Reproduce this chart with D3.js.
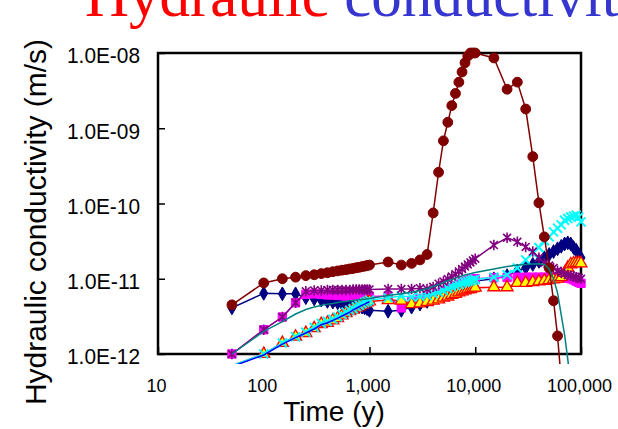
<!DOCTYPE html>
<html><head><meta charset="utf-8">
<script src="https://cdn.jsdelivr.net/npm/d3@7"></script>
<style>body{margin:0;background:#fff}svg{display:block}</style>
</head><body>
<script>
// ---- data ----
const T1 = [50,100,150,200,250,300,350,400,450,500,550,600,650,700,750,800,850,900,950,1000];
const T2 = [1500,2000,2500,3000,3500,4000,4500,5000,5500,6000,6500,7000,7500,8000,8500,9000,9500,10000];
const T3 = [15000,20000,25000,30000,35000,40000,45000,50000,55000,60000,65000,70000,75000,80000,85000,90000,95000,100000];
const timeAll = T1.concat(T2, T3);

const navy = [4.1e-12,6.4e-12,6.3e-12,6.3e-12,5.6e-12,5.4e-12,5.2e-12,5.0e-12,4.9e-12,4.8e-12,4.7e-12,4.6e-12,4.5e-12,4.4e-12,4.3e-12,4.3e-12,4.2e-12,4.1e-12,4.0e-12,3.8e-12,
  3.7e-12,3.8e-12,4.2e-12,4.6e-12,5.0e-12,5.4e-12,5.8e-12,6.2e-12,6.6e-12,7.0e-12,7.4e-12,7.7e-12,8.0e-12,8.3e-12,8.6e-12,8.9e-12,9.1e-12,9.3e-12,
  1.0e-11,1.1e-11,1.27e-11,1.4e-11,1.55e-11,1.7e-11,1.9e-11,2.1e-11,2.3e-11,2.5e-11,2.7e-11,2.9e-11,3.0e-11,2.9e-11,2.6e-11,2.4e-11,2.1e-11,1.9e-11];
const magenta = [1.0e-12,2.1e-12,3.1e-12,4.8e-12,6.2e-12,6.3e-12,6.2e-12,6.1e-12,6.1e-12,6.0e-12,6.0e-12,5.9e-12,5.9e-12,5.9e-12,5.9e-12,5.8e-12,5.8e-12,5.8e-12,5.8e-12,5.8e-12,
  5.9e-12,4.1e-12,5.0e-12,5.4e-12,5.7e-12,6.0e-12,6.4e-12,6.8e-12,7.2e-12,7.6e-12,8.0e-12,8.4e-12,8.8e-12,9.1e-12,9.4e-12,9.7e-12,9.9e-12,1.0e-11,
  1.03e-11,1.04e-11,1.05e-11,1.05e-11,1.05e-11,1.05e-11,1.05e-11,1.05e-11,1.05e-11,1.05e-11,1.04e-11,1.03e-11,1.02e-11,1.0e-11,9.7e-12,9.3e-12,9.0e-12,8.7e-12];
const triangle = [7.0e-13,1.0e-12,1.4e-12,1.7e-12,1.9e-12,2.2e-12,2.5e-12,2.6e-12,2.8e-12,3.0e-12,3.25e-12,3.5e-12,3.7e-12,3.9e-12,4.1e-12,4.3e-12,4.5e-12,4.7e-12,4.85e-12,5.0e-12,
  5.2e-12,5.1e-12,4.6e-12,4.7e-12,4.9e-12,5.1e-12,5.3e-12,5.6e-12,5.8e-12,6.1e-12,6.3e-12,6.6e-12,6.8e-12,7.0e-12,7.2e-12,7.3e-12,7.5e-12,7.6e-12,
  7.7e-12,7.7e-12,8.8e-12,8.8e-12,9.0e-12,9.2e-12,9.4e-12,9.6e-12,9.8e-12,1.0e-11,1.05e-11,1.2e-11,1.4e-11,1.55e-11,1.6e-11,1.62e-11,1.62e-11,1.6e-11];
const cyan = [7.0e-13,1.0e-12,1.4e-12,1.7e-12,1.95e-12,2.25e-12,2.55e-12,2.7e-12,2.9e-12,3.1e-12,3.35e-12,3.6e-12,3.8e-12,4.0e-12,4.25e-12,4.45e-12,4.65e-12,4.85e-12,5.0e-12,5.2e-12,
  5.6e-12,5.9e-12,5.7e-12,5.8e-12,6.0e-12,6.3e-12,6.6e-12,7.0e-12,7.4e-12,7.8e-12,8.1e-12,8.4e-12,8.7e-12,9.0e-12,9.2e-12,9.4e-12,9.6e-12,9.8e-12,
  1.05e-11,1.13e-11,1.39e-11,1.78e-11,2.2e-11,2.6e-11,3.2e-11,3.6e-11,4.2e-11,4.7e-11,5.2e-11,6.0e-11,6.3e-11,6.6e-11,6.8e-11,7.0e-11,6.6e-11,5.7e-11];
const purple = [1.0e-12,2.1e-12,3.1e-12,4.8e-12,6.8e-12,7.0e-12,7.0e-12,7.1e-12,7.1e-12,7.1e-12,7.1e-12,7.1e-12,7.1e-12,7.2e-12,7.2e-12,7.2e-12,7.2e-12,7.2e-12,7.2e-12,7.2e-12,
  7.3e-12,7.3e-12,7.3e-12,7.5e-12,7.3e-12,7.8e-12,8.6e-12,9.2e-12,9.9e-12,1.07e-11,1.15e-11,1.25e-11,1.35e-11,1.45e-11,1.55e-11,1.65e-11,1.75e-11,1.85e-11,
  2.8e-11,3.5e-11,3.1e-11,2.65e-11,2.3e-11,1.9e-11,1.62e-11,1.5e-11,1.39e-11,1.28e-11,1.22e-11,1.16e-11,1.12e-11,1.1e-11,1.07e-11,1.05e-11,1.03e-11,1.0e-11];
const darkred = [4.5e-12,8.8e-12,1.0e-11,1.05e-11,1.1e-11,1.13e-11,1.17e-11,1.2e-11,1.24e-11,1.27e-11,1.3e-11,1.32e-11,1.35e-11,1.37e-11,1.4e-11,1.42e-11,1.45e-11,1.47e-11,1.5e-11,1.52e-11,
  1.67e-11,1.52e-11,1.6e-11,1.78e-11,2.1e-11,7.5e-11,2.6e-10,6.8e-10,1.2e-9,2.0e-9,2.9e-9,4.1e-9,5.6e-9,7.4e-9,9.1e-9,1.0e-8,1.0e-8,1.0e-8,
  8.6e-9,3.3e-9,4.1e-9,1.8e-9,4.2e-10,1.02e-10,3.6e-11,1.39e-11,5.1e-12,1.74e-12,4.5e-13];
const teal = [1.0e-12,2.0e-12,2.7e-12,3.4e-12,3.9e-12,4.2e-12,4.4e-12,4.6e-12,4.7e-12,4.85e-12,4.95e-12,5.0e-12,5.1e-12,5.15e-12,5.2e-12,5.25e-12,5.3e-12,5.35e-12,5.4e-12,5.45e-12,
  6.0e-12,6.3e-12,6.6e-12,7.0e-12,7.4e-12,7.9e-12,8.4e-12,8.9e-12,9.4e-12,9.8e-12,1.02e-11,1.06e-11,1.09e-11,1.12e-11,1.15e-11,1.17e-11,1.19e-11,1.21e-11,
  1.35e-11,1.45e-11,1.52e-11,1.55e-11,1.57e-11,1.58e-11,1.55e-11,1.35e-11,1.0e-11,6.5e-12,3.3e-12,1.8e-12,8.5e-13,4.0e-13];
const blue = [6.8e-13,0.97e-12,1.35e-12,1.65e-12,1.9e-12,2.15e-12,2.45e-12,2.6e-12,2.8e-12,3.0e-12,3.2e-12,3.4e-12,3.6e-12,3.85e-12,4.05e-12,4.25e-12,4.45e-12,4.6e-12,4.8e-12,4.95e-12];

const xTicks = [10,100,1000,10000,100000];
const xTickLabels = ["10","100","1,000","10,000","100,000"];
const yTicks = [1e-12,1e-11,1e-10,1e-9,1e-8];
const yTickLabels = ["1.0E-12","1.0E-11","1.0E-10","1.0E-09","1.0E-08"];

// ---- chart ----
const W = 618, H = 429;
const svg = d3.select("body").append("svg").attr("width", W).attr("height", H);
const x = d3.scaleLog().domain([10, 1e5]).range([158, 581]);
const y = d3.scaleLog().domain([1e-12, 1e-8]).range([354, 53]);

// title (cut at top, as in the source)
const title = svg.append("text").attr("x", 85).attr("y", 16)
  .attr("font-family", "Liberation Serif, Times New Roman, serif").attr("font-size", 61);
title.append("tspan").attr("fill", "#ff0000").text("Hydraulic ");
title.append("tspan").attr("fill", "#3535d0").text("conductivity");

// y title
svg.append("text").attr("transform", "translate(46,222) rotate(-90)")
  .attr("text-anchor", "middle").attr("font-family", "Liberation Sans, Arial, sans-serif")
  .attr("font-size", 29).attr("textLength", 366).attr("lengthAdjust", "spacingAndGlyphs")
  .text("Hydraulic conductivity (m/s)");

// x title
svg.append("text").attr("x", 334).attr("y", 421).attr("text-anchor", "middle")
  .attr("font-family", "Liberation Sans, Arial, sans-serif").attr("font-size", 28)
  .text("Time (y)");

// y axis
const yAxis = svg.append("g").attr("transform", "translate(158,0)")
  .call(d3.axisLeft(y).tickValues(yTicks).tickSizeInner(-7).tickSizeOuter(0).tickPadding(18)
    .tickFormat((d, i) => yTickLabels[i]));
yAxis.select(".domain").remove();
yAxis.selectAll("line").attr("stroke", "#000").attr("stroke-width", 1.5);
yAxis.selectAll("text").attr("font-family", "Liberation Sans, Arial, sans-serif")
  .attr("font-size", 22).attr("fill", "#000").attr("dy", "0.45em")
  .attr("textLength", 73).attr("lengthAdjust", "spacingAndGlyphs");

// x axis ticks + labels
const xAxis = svg.append("g").attr("transform", "translate(0,354)")
  .call(d3.axisBottom(x).tickValues(xTicks).tickSizeInner(-7).tickSizeOuter(0).tickPadding(25)
    .tickFormat((d, i) => xTickLabels[i]));
xAxis.select(".domain").remove();
xAxis.selectAll("line").attr("stroke", "#000").attr("stroke-width", 1.5);
xAxis.selectAll("text").attr("font-family", "Liberation Sans, Arial, sans-serif")
  .attr("font-size", 18).attr("fill", "#000").attr("dx", -2);

// clip
svg.append("clipPath").attr("id", "clip").append("rect")
  .attr("x", 150).attr("y", 40).attr("width", 460).attr("height", 324);

const plot = svg.append("g");
const lineGen = d3.line().x(d => x(d[0])).y(d => y(d[1]));

const starSym = { draw(ctx, size) { const r = Math.sqrt(size) / 2; const d = r * 0.75;
  ctx.moveTo(0, -r); ctx.lineTo(0, r); ctx.moveTo(-d, -d); ctx.lineTo(d, d); ctx.moveTo(-d, d); ctx.lineTo(d, -d); } };

const series = [
  { v: navy, line: "#000080", sym: d3.symbolDiamond, size: 55, fill: "#000080", stroke: "#000080", sw: 1 },
  { v: magenta, line: "#ff00ff", sym: d3.symbolSquare, size: 70, fill: "#ff00ff", stroke: "#ff00ff", sw: 1 },
  { v: triangle, line: "#ff0000", sym: d3.symbolTriangle, size: 62, fill: "#ffff00", stroke: "#ff0000", sw: 1.3 },
  { v: cyan, line: "#00ffff", sym: d3.symbolX, size: 55, fill: "none", stroke: "#00ffff", sw: 2 },
  { v: purple, line: "#800080", sym: starSym, size: 110, fill: "none", stroke: "#800080", sw: 1.6 },
  { v: darkred, line: "#800000", sym: d3.symbolCircle, size: 76, fill: "#800000", stroke: "#800000", sw: 1 },
  { v: teal, line: "#008080", sym: null },
  { v: blue, line: "#0000ff", sym: null }
];

series.forEach(s => {
  const pts = s.v.map((v, i) => [timeAll[i], v]);
  plot.append("path").attr("d", lineGen(pts)).attr("fill", "none")
    .attr("stroke", s.line).attr("stroke-width", 1.5).attr("clip-path", "url(#clip)");
  if (s.sym) {
    plot.selectAll(null).data(pts.filter(p => p[1] >= 1e-12 && p[1] <= 1e-8)).enter()
      .append("path").attr("d", d3.symbol().type(s.sym).size(s.size))
      .attr("transform", p => `translate(${x(p[0])},${y(p[1])})`)
      .attr("fill", s.fill).attr("stroke", s.stroke).attr("stroke-width", s.sw);
  }
});

// frame
svg.append("rect").attr("x", 158).attr("y", 53).attr("width", 423).attr("height", 301)
  .attr("fill", "none").attr("stroke", "#000").attr("stroke-width", 2.5);
plot.raise();
</script>
</body></html>
